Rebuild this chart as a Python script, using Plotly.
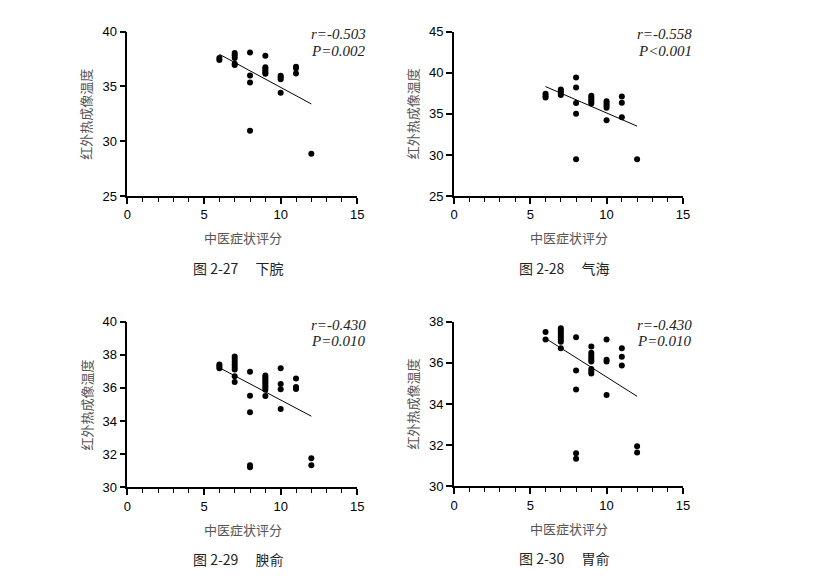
import plotly.graph_objects as go

# page is 836x584; the default body margin of 8px surrounds the figure
PAGE_W, PAGE_H = 836, 584
OFF = 8
W, H = PAGE_W - 2 * OFF, PAGE_H - 2 * OFF

# ---------------- data ----------------
p1_x = [6, 6, 7, 7, 7, 7, 7, 8, 8, 8, 8, 9, 9, 9, 9, 9, 9, 10, 10, 10, 10, 11, 11, 11, 12]
p1_y = [37.6, 37.4, 38.05, 37.84, 37.6, 37.07, 36.95, 38.08, 36.0, 35.36, 30.95,
        37.8, 36.75, 36.6, 36.45, 36.27, 36.15, 35.98, 35.83, 35.65, 34.41,
        36.8, 36.66, 36.18, 28.85]

p2_x = [6, 6, 6, 7, 7, 7, 7, 8, 8, 8, 8, 8, 9, 9, 9, 9, 9, 10, 10, 10, 10, 10, 11, 11, 11, 12]
p2_y = [37.44, 37.2, 36.97, 37.95, 37.76, 37.52, 37.28, 39.41, 38.19, 36.3, 35.0, 29.49,
        37.2, 36.97, 36.73, 36.5, 36.26, 36.54, 36.26, 36.02, 35.75, 34.21,
        37.09, 36.34, 34.57, 29.49]

p3_x = [6] * 3 + [7] * 8 + [8] * 5 + [9] * 9 + [10] * 4 + [11] * 3 + [12] * 2
p3_y = [37.42, 37.3, 37.19,
        37.89, 37.74, 37.58, 37.42, 37.26, 37.11, 36.71, 36.36,
        36.97, 35.53, 34.53, 31.32, 31.2,
        36.75, 36.63, 36.52, 36.4, 36.28, 36.14, 36.02, 35.89, 35.51,
        37.19, 36.24, 35.91, 34.72,
        36.57, 36.06, 35.93,
        31.75, 31.32]

p4_x = [6] * 2 + [7] * 8 + [8] * 5 + [9] * 9 + [10] * 4 + [11] * 3 + [12] * 2
p4_y = [37.5, 37.13,
        37.68, 37.57, 37.46, 37.35, 37.24, 37.13, 37.02, 36.71,
        37.24, 35.63, 34.7, 31.6, 31.34,
        36.79, 36.49, 36.38, 36.26, 36.15, 36.06, 35.7, 35.59, 35.48,
        37.13, 36.15, 36.06, 34.44,
        36.71, 36.3, 35.87,
        31.94, 31.64]

# regression line end points (x at 6 and 12)
fit_x = [6, 12]
p1_fit = [37.93, 33.4]
p2_fit = [38.31, 33.5]
p3_fit = [37.22, 34.29]
p4_fit = [37.19, 34.37]

r_labels = ["r=-0.503", "r=-0.558", "r=-0.430", "r=-0.430"]
p_labels = ["P=0.002", "P<0.001", "P=0.010", "P=0.010"]
captions = ["图 2-27\u3000 下脘", "图 2-28\u3000 气海", "图 2-29\u3000 腴俞", "图 2-30\u3000 胃俞"]
x_title = "中医症状评分"
y_title = "红外热成像温度"

x_range = [0, 15]
y_ranges = [[25, 40], [25, 45], [30, 40], [30, 38]]
y_dticks = [5, 5, 2, 2]

# ---------------- layout geometry (page pixels) ----------------
panels = [
    dict(x0=125, x1=358, y0=25, y1=194),
    dict(x0=456, x1=688, y0=25, y1=194),
    dict(x0=125, x1=358, y0=323, y1=493),
    dict(x0=456, x1=688, y0=323, y1=492),
]

def px(x):
    return (x - OFF) / W

def py(y):
    return 1 - (y - OFF) / H

fig = go.Figure()
series = [(p1_x, p1_y, p1_fit), (p2_x, p2_y, p2_fit), (p3_x, p3_y, p3_fit), (p4_x, p4_y, p4_fit)]

tick_font = dict(family="Liberation Sans, Arial", size=13, color="#000000")
annotations = []
for i, ((xs, ys, fit), pn) in enumerate(zip(series, panels)):
    k = "" if i == 0 else str(i + 1)
    xa, ya = "x" + k, "y" + k
    fig.add_trace(go.Scatter(x=fit_x, y=fit, mode="lines", xaxis=xa, yaxis=ya,
                             line=dict(color="black", width=1), showlegend=False,
                             hoverinfo="skip"))
    fig.add_trace(go.Scatter(x=xs, y=ys, mode="markers", xaxis=xa, yaxis=ya,
                             marker=dict(color="black", size=6), showlegend=False,
                             cliponaxis=False))
    fig.update_layout(**{
        "xaxis" + k: dict(
            domain=[px(pn["x0"]), px(pn["x1"])], anchor=ya, range=x_range,
            dtick=5, tick0=0, ticks="outside", ticklen=6, tickwidth=1.5, tickcolor="black",
            minor=dict(dtick=1, tick0=0, ticks="outside", ticklen=4, tickwidth=1.2, tickcolor="black"),
            showline=True, linecolor="black", linewidth=1.6, showgrid=False, zeroline=False,
            tickfont=tick_font, fixedrange=True,
        ),
        "yaxis" + k: dict(
            domain=[py(pn["y1"]), py(pn["y0"])], anchor=xa, range=y_ranges[i],
            dtick=y_dticks[i], ticks="outside", ticklen=6, tickwidth=1.5, tickcolor="black",
            showline=True, linecolor="black", linewidth=1.6, showgrid=False, zeroline=False,
            tickfont=tick_font, fixedrange=True,
        ),
    })
    cx = (pn["x0"] + pn["x1"]) / 2
    # y-axis title
    annotations.append(dict(text=y_title, x=px(pn["x0"] - 42), y=py((pn["y0"] + pn["y1"]) / 2),
                            xref="paper", yref="paper", textangle=-90, showarrow=False,
                            xanchor="center", yanchor="middle",
                            font=dict(family="Noto Sans CJK SC", size=13, color="#555555")))
    # x-axis title
    annotations.append(dict(text=x_title, x=px(cx + 1), y=py(pn["y1"] + 43),
                            xref="paper", yref="paper", showarrow=False,
                            xanchor="center", yanchor="middle",
                            font=dict(family="Noto Sans CJK SC", size=13, color="#555555")))
    # caption
    annotations.append(dict(text=captions[i], x=px(cx - 4), y=py(pn["y1"] + 74),
                            xref="paper", yref="paper", showarrow=False,
                            xanchor="center", yanchor="middle",
                            font=dict(family="Noto Sans CJK SC", size=14, color="#222222")))
    # r and P
    annotations.append(dict(text="<i>" + r_labels[i] + "</i>", x=px(pn["x1"] + 11), y=py(pn["y0"] + 3),
                            xref="paper", yref="paper", showarrow=False,
                            xanchor="right", yanchor="middle",
                            font=dict(family="Liberation Serif, Times New Roman", size=15, color="#222222")))
    annotations.append(dict(text="<i>" + p_labels[i] + "</i>", x=px(pn["x1"] + 11), y=py(pn["y0"] + 20),
                            xref="paper", yref="paper", showarrow=False,
                            xanchor="right", yanchor="middle",
                            font=dict(family="Liberation Serif, Times New Roman", size=15, color="#222222")))

fig.update_layout(
    width=W, height=H, margin=dict(l=0, r=0, t=0, b=0),
    paper_bgcolor="white", plot_bgcolor="white",
    annotations=annotations, showlegend=False,
)

fig.write_html("out.html")
